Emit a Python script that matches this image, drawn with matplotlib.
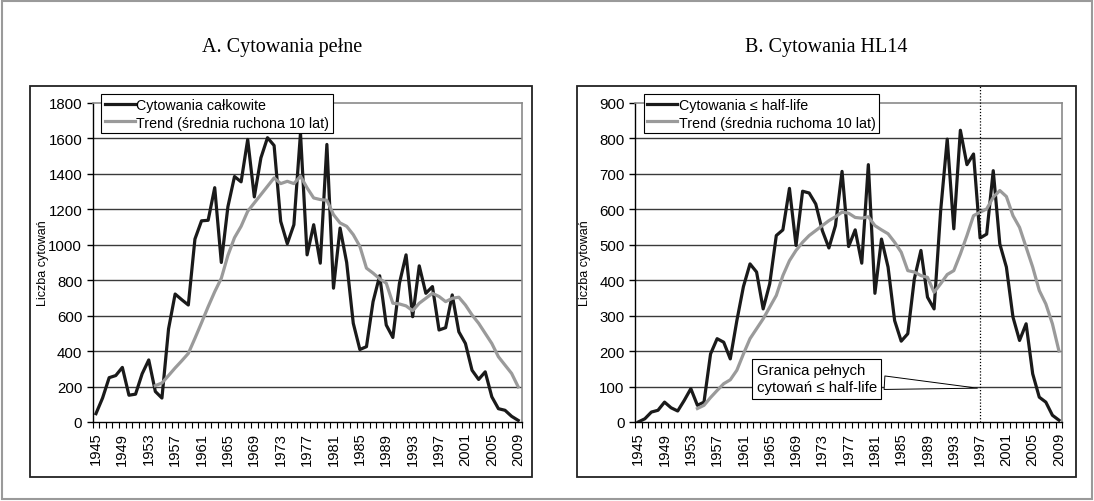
import numpy as np
import matplotlib.pyplot as plt
from matplotlib.patches import Rectangle

# lata 1945-2009
lata = np.arange(1945, 2010)

# A. cytowania pelne
cyt_calk = [47, 135, 250, 262, 308, 151, 157, 272, 350, 172,
            135, 525, 722, 690, 660, 1032, 1135, 1138, 1322, 900,
            1215, 1385, 1355, 1594, 1270, 1490, 1604, 1560, 1132, 1006,
            1113, 1630, 943, 1113, 896, 1566, 755, 1094, 900, 557,
            409, 425, 679, 825, 547, 477, 783, 943, 594, 881,
            726, 764, 519, 532, 717, 509, 443, 292, 240, 283,
            142, 75, 66, 32, 9]
trend_a = [205, 220, 262, 305, 345, 387, 472, 560, 650, 735,
           811, 940, 1040, 1104, 1189, 1236, 1283, 1330, 1377, 1345,
           1358, 1345, 1387, 1321, 1264, 1255, 1251, 1170, 1123, 1104,
           1057, 991, 868, 840, 808, 783, 670, 666, 655, 628,
           670, 698, 726, 708, 679, 698, 704, 660, 604, 557,
           500, 443, 368, 321, 274, 198]

# B. cytowania HL14
cyt_hl = [0, 9, 28, 33, 56, 40, 31, 61, 94, 47,
          56, 192, 235, 225, 178, 286, 382, 446, 423, 319,
          390, 526, 542, 659, 498, 651, 646, 615, 540, 491,
          554, 707, 495, 542, 448, 726, 363, 516, 437, 286,
          228, 249, 404, 484, 352, 319, 596, 798, 545, 823,
          726, 756, 519, 530, 709, 502, 437, 296, 230, 277,
          136, 70, 56, 19, 5]
trend_b = [38, 47, 69, 89, 108, 119, 146, 192, 235, 263,
           291, 324, 357, 413, 455, 484, 507, 526, 540, 554,
           568, 579, 592, 589, 577, 575, 579, 554, 542, 531,
           507, 479, 427, 423, 413, 408, 366, 390, 416, 427,
           474, 526, 582, 592, 601, 634, 653, 636, 582, 549,
           493, 437, 371, 333, 277, 200]
lata_trend = np.arange(1954, 2010)

granica_rok = 1997
granica_wart = 95

plt.rcParams['font.family'] = ['Liberation Sans', 'DejaVu Sans']

fig = plt.figure(figsize=(10.94, 5.02), dpi=100)


def rysuj_panel(pos, y, trend, ymax, krok, etykiety):
    ax = fig.add_axes(pos)
    ax.set_xlim(1944.5, 2009.5)
    ax.set_ylim(0, ymax)
    ax.set_yticks(np.arange(0, ymax + 1, krok))
    ax.tick_params(axis='y', labelsize=10.8, length=4, width=1, pad=3.5)
    for yy in np.arange(krok, ymax, krok):
        ax.axhline(yy, color='#3a3a3a', lw=1, zorder=1)
    # podzialka na granicach kategorii, etykiety co 4 lata
    ax.set_xticks(np.arange(1944.5, 2010, 1))
    ax.set_xticklabels([])
    ax.tick_params(axis='x', which='major', length=4, width=0.8)
    ax.set_xticks(lata[::4], minor=True)
    ax.set_xticklabels([str(r) for r in lata[::4]], minor=True,
                       rotation=90, fontsize=10.6)
    ax.tick_params(axis='x', which='minor', length=0, pad=7)
    for s in ['top', 'right']:
        ax.spines[s].set_color('#8a8a8a')
        ax.spines[s].set_linewidth(1.2)
    for s in ['left', 'bottom']:
        ax.spines[s].set_color('black')
        ax.spines[s].set_linewidth(1)
    ax.plot(lata, y, color='#1a1a1a', lw=2.3, label=etykiety[0], zorder=3)
    ax.plot(lata_trend, trend, color='#9a9a9a', lw=2.3, label=etykiety[1], zorder=3)
    ax.set_ylabel('Liczba cytowań', fontsize=9)
    ax.yaxis.set_label_coords(-0.102, 0.5)
    leg = ax.legend(loc='upper left', bbox_to_anchor=(0.02, 1.027), fontsize=10.3,
                    frameon=True, fancybox=False, edgecolor='black',
                    framealpha=1, handlelength=2.1, handletextpad=0.1,
                    borderpad=0.25, labelspacing=0.25, borderaxespad=0)
    leg.get_frame().set_linewidth(0.8)
    leg.set_zorder(5)
    return ax


ax1 = rysuj_panel([0.0847, 0.1574, 0.392, 0.6355], cyt_calk, trend_a, 1800, 200,
                  ['Cytowania całkowite', 'Trend (średnia ruchona 10 lat)'])
ax2 = rysuj_panel([0.5804, 0.1574, 0.3906, 0.6355], cyt_hl, trend_b, 900, 100,
                  ['Cytowania ≤ half-life', 'Trend (średnia ruchoma 10 lat)'])

# granica pelnych cytowan
ax2.axvline(granica_rok, ymin=0, ymax=1.053, color='black', lw=0.9,
            ls=(0, (1, 1.5)), clip_on=False, zorder=4)
ax2.annotate('Granica pełnych\ncytowań ≤ half-life', xy=(granica_rok, granica_wart),
             xytext=(1963.0, 122), ha='left', va='center', fontsize=10.8,
             linespacing=1.3,
             bbox=dict(boxstyle='square,pad=0.3', fc='white', ec='black', lw=0.8),
             arrowprops=dict(arrowstyle='wedge,tail_width=0.9,shrink_factor=0.5',
                             fc='white', ec='black', lw=0.7),
             zorder=6)

# tytuly
fig.text(0.258, 0.905, 'A. Cytowania pełne', ha='center', va='center',
         fontsize=14.5, family='Liberation Serif')
fig.text(0.755, 0.905, 'B. Cytowania HL14', ha='center', va='center',
         fontsize=14.5, family='Liberation Serif')

# ramki paneli
fig.patches.append(Rectangle((0.0274, 0.0478), 0.4589, 0.7789, transform=fig.transFigure,
                             fill=False, ec='#222222', lw=1.3))
fig.patches.append(Rectangle((0.5274, 0.0478), 0.4561, 0.7789, transform=fig.transFigure,
                             fill=False, ec='#222222', lw=1.3))
fig.patches.append(Rectangle((0.002, 0.004), 0.996, 0.992, transform=fig.transFigure,
                             fill=False, ec='#9a9a9a', lw=1.5))

fig.savefig('out.png', dpi=100)
